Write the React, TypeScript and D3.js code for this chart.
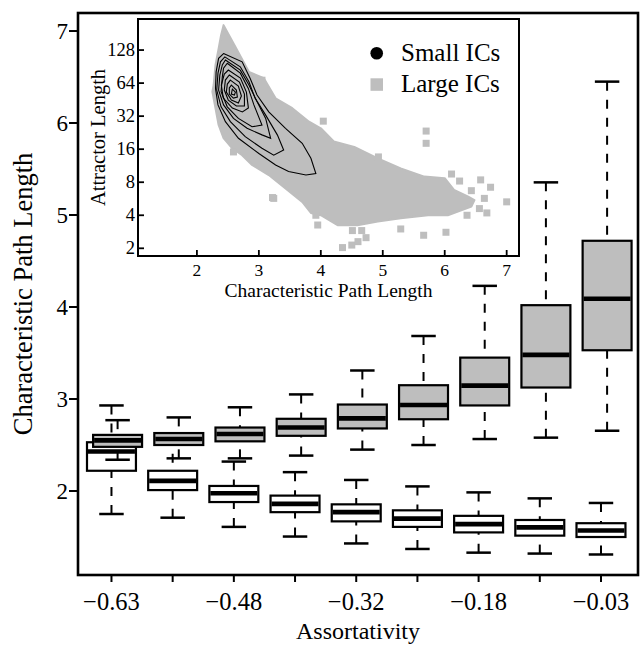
import * as d3 from "d3";
import { useEffect, useRef } from "react";

// ---- main chart: box plots per assortativity bin ----
const assortativity = [-0.63, -0.55, -0.48, -0.4, -0.32, -0.25, -0.18, -0.1, -0.03];
const assortLabels = ["−0.63", "", "−0.48", "", "−0.32", "", "−0.18", "", "−0.03"];
const pathTicks = [2, 3, 4, 5, 6, 7];

// small ICs (white boxes): whisker low, Q1, median, Q3, whisker high
const smallLow = [1.75, 1.71, 1.61, 1.505, 1.43, 1.37, 1.33, 1.32, 1.31];
const smallQ1 = [2.22, 2.01, 1.88, 1.77, 1.67, 1.61, 1.55, 1.515, 1.5];
const smallMed = [2.43, 2.11, 1.975, 1.86, 1.77, 1.7, 1.64, 1.605, 1.57];
const smallQ3 = [2.53, 2.22, 2.055, 1.95, 1.855, 1.79, 1.73, 1.685, 1.65];
const smallHigh = [2.93, 2.6, 2.32, 2.205, 2.12, 2.05, 1.985, 1.92, 1.87];

// large ICs (gray boxes)
const largeLow = [2.34, 2.355, 2.355, 2.385, 2.45, 2.5, 2.565, 2.58, 2.655];
const largeQ1 = [2.48, 2.5, 2.54, 2.6, 2.68, 2.78, 2.93, 3.125, 3.53];
const largeMed = [2.55, 2.565, 2.62, 2.69, 2.79, 2.935, 3.145, 3.48, 4.09];
const largeQ3 = [2.61, 2.63, 2.69, 2.785, 2.94, 3.15, 3.45, 4.02, 4.72];
const largeHigh = [2.77, 2.8, 2.91, 3.05, 3.31, 3.685, 4.23, 5.355, 6.45];

// ---- inset: attractor length vs path length ----
const insetXTicks = [2, 3, 4, 5, 6, 7];
const insetYTicks = [2, 4, 8, 16, 32, 64, 128];
const legendLabels = ["Small ICs", "Large ICs"];

// outline of the dense cloud of large-IC points [path length, attractor length]
const largeCloud: [number, number][] = [
  [2.43, 216], [2.62, 137], [2.84, 81], [3.08, 71], [3.27, 46.5], [3.54, 37.8], [3.81, 28.5],
  [4.0, 24.8], [4.21, 18.8], [4.54, 16.8], [4.92, 13.2], [5.29, 10.7], [5.67, 9.0], [6.0, 8.7],
  [6.15, 6.8], [6.38, 5.9], [6.48, 5.5], [6.43, 4.8], [6.05, 4.0], [5.73, 4.0], [5.29, 3.75],
  [4.92, 3.5], [4.59, 3.25], [4.27, 3.25], [4.0, 4.0], [3.84, 4.2], [3.7, 5.3], [3.43, 7.0],
  [3.16, 9.3], [2.89, 11.5], [2.73, 14.1], [2.57, 16.3], [2.43, 20.2], [2.35, 26.6], [2.3, 37.8],
  [2.25, 53.4], [2.27, 61.5], [2.3, 93.7], [2.35, 132], [2.39, 175],
];
// scattered large-IC points outside the cloud
const largeOutliers: [number, number][] = [
  [4.04, 28.8], [3.24, 5.7], [2.59, 15.1], [3.95, 3.26], [5.7, 23.4], [5.7, 18.1], [6.11, 9.5],
  [6.24, 8.2], [6.58, 8.4], [6.74, 7.2], [6.43, 6.7], [6.64, 5.7], [7.0, 5.3], [6.68, 4.2],
  [6.36, 4.0], [6.56, 4.6], [6.02, 2.8], [5.66, 2.63], [5.29, 3.0], [4.35, 2.03], [4.5, 2.14],
  [4.6, 2.3], [4.73, 2.5], [4.51, 2.9], [4.66, 2.9], [4.93, 13.6], [3.05, 68], [3.22, 5.8],
  [3.92, 4.0],
];
// density contours of small-IC points
const smallContours: [number, number][][] = [
  [[2.43, 119], [2.73, 100], [2.86, 70.5], [2.97, 49.9], [3.16, 35], [3.43, 24.8], [3.7, 18.1],
   [3.84, 13.2], [3.92, 9.6], [3.76, 9.3], [3.48, 10], [3.27, 11.5], [3.0, 14.6], [2.67, 20.1],
   [2.46, 28.5], [2.34, 40.5], [2.3, 57.3], [2.31, 81], [2.35, 107.6]],
  [[2.45, 111], [2.7, 90], [2.84, 65.8], [2.94, 46.5], [3.11, 32.7], [3.3, 21.5], [3.4, 15.7],
   [3.24, 14.1], [3.05, 16.3], [2.78, 20.8], [2.54, 28.5], [2.39, 38.9], [2.32, 55.3],
   [2.34, 78.8], [2.38, 100]],
  [[2.46, 104], [2.7, 84], [2.84, 61.4], [2.97, 43.4], [3.11, 30.5], [3.19, 20.1], [3.05, 21.6],
   [2.81, 24.8], [2.59, 30.5], [2.43, 40.5], [2.35, 55.3], [2.37, 75.6], [2.41, 93.7]],
  [[2.49, 97], [2.7, 78.8], [2.83, 57.3], [2.92, 40.5], [3.05, 26.5], [2.89, 25.6], [2.67, 30.5],
   [2.49, 38.9], [2.39, 53.4], [2.41, 73], [2.43, 87.4]],
  [[2.507, 84.2], [2.702, 71.2], [2.799, 53], [2.831, 37.9], [2.734, 34.9], [2.572, 37.9],
   [2.426, 46.8], [2.394, 61.4], [2.442, 77.4]],
  [[2.523, 75.8], [2.686, 65.4], [2.767, 50.9], [2.767, 39.6], [2.637, 39.6], [2.507, 44.8],
   [2.442, 55.3], [2.459, 68.2]],
  [[2.54, 68.2], [2.669, 60.2], [2.718, 48.8], [2.669, 42.1], [2.556, 44.8], [2.475, 53],
   [2.491, 62.7]],
  [[2.556, 61.4], [2.637, 55.3], [2.653, 47.8], [2.588, 46.8], [2.523, 50.9], [2.523, 57.7]],
  [[2.572, 56.5], [2.621, 53], [2.605, 49.8], [2.556, 50.9]],
];

const FONT = "'Liberation Serif', 'Times New Roman', serif";
const GRAY = "#bebebe";

export default function App() {
  const svgRef = useRef<SVGSVGElement | null>(null);

  useEffect(() => {
    const svg = d3.select(svgRef.current);
    svg.selectAll("*").remove();

    // ---- main scales ----
    const frame = { left: 78, right: 638, top: 13, bottom: 575 };
    const x = d3.scaleLinear().domain([-0.547, 8.605]).range([frame.left, frame.right]);
    const y = d3.scaleLinear().domain([1.087, 7.196]).range([frame.bottom, frame.top]);
    const idx = d3.range(assortativity.length);

    const boxW = 0.8; // in category units
    const capW = 0.4;

    const drawBoxes = (
      low: number[], q1: number[], med: number[], q3: number[], high: number[],
      shift: number, fill: string
    ) => {
      const g = svg.append("g");
      // whiskers (cap -> hinge), dashed
      g.append("g").selectAll("line").data(idx).join("line")
        .attr("x1", (i) => x(i + shift)).attr("x2", (i) => x(i + shift))
        .attr("y1", (i) => y(low[i])).attr("y2", (i) => y(q1[i]))
        .attr("stroke", "#000").attr("stroke-width", 2).attr("stroke-dasharray", "9,9");
      g.append("g").selectAll("line").data(idx).join("line")
        .attr("x1", (i) => x(i + shift)).attr("x2", (i) => x(i + shift))
        .attr("y1", (i) => y(high[i])).attr("y2", (i) => y(q3[i]))
        .attr("stroke", "#000").attr("stroke-width", 2).attr("stroke-dasharray", "9,9");
      // staples
      for (const arr of [low, high]) {
        g.append("g").selectAll("line").data(idx).join("line")
          .attr("x1", (i) => x(i + shift - capW / 2)).attr("x2", (i) => x(i + shift + capW / 2))
          .attr("y1", (i) => y(arr[i])).attr("y2", (i) => y(arr[i]))
          .attr("stroke", "#000").attr("stroke-width", 2.5);
      }
      // boxes
      g.append("g").selectAll("rect").data(idx).join("rect")
        .attr("x", (i) => x(i + shift - boxW / 2))
        .attr("width", x(boxW) - x(0))
        .attr("y", (i) => y(q3[i]))
        .attr("height", (i) => y(q1[i]) - y(q3[i]))
        .attr("fill", fill).attr("stroke", "#000").attr("stroke-width", 2.2);
      // medians
      g.append("g").selectAll("line").data(idx).join("line")
        .attr("x1", (i) => x(i + shift - boxW / 2) + 1).attr("x2", (i) => x(i + shift + boxW / 2) - 1)
        .attr("y1", (i) => y(med[i])).attr("y2", (i) => y(med[i]))
        .attr("stroke", "#000").attr("stroke-width", 4.6);
    };

    drawBoxes(smallLow, smallQ1, smallMed, smallQ3, smallHigh, 0, "#fff");
    drawBoxes(largeLow, largeQ1, largeMed, largeQ3, largeHigh, 0.1, GRAY);

    // ---- main axes ----
    svg.append("rect")
      .attr("x", frame.left).attr("y", frame.top)
      .attr("width", frame.right - frame.left).attr("height", frame.bottom - frame.top)
      .attr("fill", "none").attr("stroke", "#000").attr("stroke-width", 2.6);

    svg.append("g").selectAll("line").data(pathTicks).join("line")
      .attr("x1", frame.left - 9).attr("x2", frame.left)
      .attr("y1", (d) => y(d)).attr("y2", (d) => y(d))
      .attr("stroke", "#000").attr("stroke-width", 2);
    svg.append("g").selectAll("text").data(pathTicks).join("text")
      .attr("x", 68).attr("y", (d) => y(d) + 7.5)
      .attr("text-anchor", "end").attr("font-family", FONT).attr("font-size", 23)
      .text((d) => d);

    svg.append("g").selectAll("line").data(idx).join("line")
      .attr("x1", (i) => x(i)).attr("x2", (i) => x(i))
      .attr("y1", frame.bottom).attr("y2", frame.bottom + 7)
      .attr("stroke", "#000").attr("stroke-width", 2);
    svg.append("g").selectAll("text").data(idx).join("text")
      .attr("x", (i) => x(i)).attr("y", 610)
      .attr("text-anchor", "middle").attr("font-family", FONT).attr("font-size", 24.5)
      .text((i) => assortLabels[i]);

    svg.append("text")
      .attr("x", (frame.left + frame.right) / 2).attr("y", 639)
      .attr("text-anchor", "middle").attr("font-family", FONT).attr("font-size", 24)
      .text("Assortativity");
    svg.append("text")
      .attr("transform", `translate(32,${(frame.top + frame.bottom) / 2}) rotate(-90)`)
      .attr("text-anchor", "middle").attr("font-family", FONT).attr("font-size", 26.5)
      .text("Characteristic Path Length");

    // ---- inset ----
    const inset = { left: 138, right: 519, top: 19, bottom: 256 };
    const ix = d3.scaleLinear().domain([1.049, 7.199]).range([inset.left, inset.right]);
    const iy = d3.scaleLog().base(2).domain([Math.pow(2, 0.767), Math.pow(2, 7.94)]).range([inset.bottom, inset.top]);

    svg.append("defs").append("clipPath").attr("id", "insetClip")
      .append("rect")
      .attr("x", inset.left).attr("y", inset.top)
      .attr("width", inset.right - inset.left).attr("height", inset.bottom - inset.top);

    svg.append("rect")
      .attr("x", inset.left).attr("y", inset.top)
      .attr("width", inset.right - inset.left).attr("height", inset.bottom - inset.top)
      .attr("fill", "#fff");

    const ig = svg.append("g").attr("clip-path", "url(#insetClip)");
    ig.append("path")
      .datum(largeCloud)
      .attr("d", d3.line<[number, number]>().x((d) => ix(d[0])).y((d) => iy(d[1])).curve(d3.curveLinearClosed))
      .attr("fill", GRAY).attr("stroke", GRAY).attr("stroke-width", 2).attr("stroke-linejoin", "round");
    const sq = 7;
    ig.append("g").selectAll("rect").data(largeOutliers).join("rect")
      .attr("x", (d) => ix(d[0]) - sq / 2).attr("y", (d) => iy(d[1]) - sq / 2)
      .attr("width", sq).attr("height", sq).attr("fill", GRAY);
    ig.append("g").selectAll("path").data(smallContours).join("path")
      .attr("d", d3.line<[number, number]>().x((d) => ix(d[0])).y((d) => iy(d[1])).curve(d3.curveLinearClosed))
      .attr("fill", "none").attr("stroke", "#000").attr("stroke-width", 1.1);

    svg.append("rect")
      .attr("x", inset.left).attr("y", inset.top)
      .attr("width", inset.right - inset.left).attr("height", inset.bottom - inset.top)
      .attr("fill", "none").attr("stroke", "#000").attr("stroke-width", 2);

    // inward ticks
    svg.append("g").selectAll("line").data(insetXTicks).join("line")
      .attr("x1", (d) => ix(d)).attr("x2", (d) => ix(d))
      .attr("y1", inset.bottom).attr("y2", inset.bottom - 6)
      .attr("stroke", "#000").attr("stroke-width", 1.8);
    svg.append("g").selectAll("text").data(insetXTicks).join("text")
      .attr("x", (d) => ix(d)).attr("y", 276)
      .attr("text-anchor", "middle").attr("font-family", FONT).attr("font-size", 17.5)
      .text((d) => d);
    svg.append("g").selectAll("line").data(insetYTicks).join("line")
      .attr("x1", inset.left).attr("x2", inset.left + 6)
      .attr("y1", (d) => iy(d)).attr("y2", (d) => iy(d))
      .attr("stroke", "#000").attr("stroke-width", 1.8);
    svg.append("g").selectAll("text").data(insetYTicks).join("text")
      .attr("x", 135).attr("y", (d) => iy(d) + 6)
      .attr("text-anchor", "end").attr("font-family", FONT).attr("font-size", 18.5)
      .text((d) => d);

    svg.append("text")
      .attr("x", (inset.left + inset.right) / 2).attr("y", 297)
      .attr("text-anchor", "middle").attr("font-family", FONT).attr("font-size", 19.5)
      .text("Characteristic Path Length");
    svg.append("text")
      .attr("transform", `translate(105,${(inset.top + inset.bottom) / 2}) rotate(-90)`)
      .attr("text-anchor", "middle").attr("font-family", FONT).attr("font-size", 20.5)
      .text("Attractor Length");

    // legend
    const lg = svg.append("g");
    lg.append("circle").attr("cx", 376.7).attr("cy", 53.3).attr("r", 6.3).attr("fill", "#000");
    lg.append("rect").attr("x", 370.5).attr("y", 78.3).attr("width", 12.5).attr("height", 12.5).attr("fill", GRAY);
    lg.selectAll("text").data(legendLabels).join("text")
      .attr("x", 401).attr("y", (_, i) => 60.7 + i * 31.6)
      .attr("font-family", FONT).attr("font-size", 25)
      .text((d) => d);
  }, []);

  return (
    <svg
      ref={svgRef}
      width={644}
      height={645}
      style={{ position: "absolute", left: 0, top: 0, background: "#fff" }}
    />
  );
}
